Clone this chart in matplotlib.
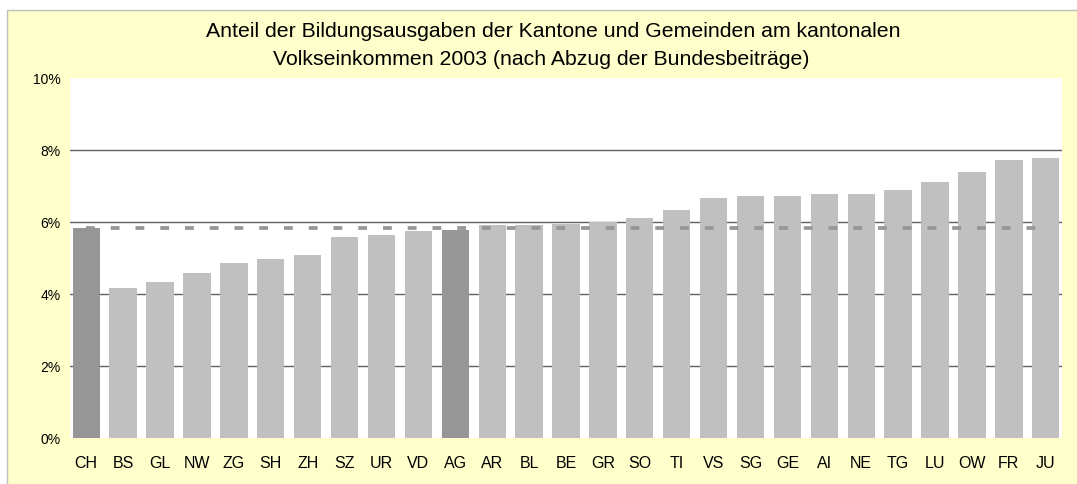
import matplotlib
matplotlib.use("Agg")
import matplotlib.pyplot as plt
from matplotlib.patches import Rectangle

plt.rcParams['font.family'] = ['Liberation Sans', 'DejaVu Sans']

cantons = ["CH", "BS", "GL", "NW", "ZG", "SH", "ZH", "SZ", "UR", "VD", "AG", "AR", "BL",
           "BE", "GR", "SO", "TI", "VS", "SG", "GE", "AI", "NE", "TG", "LU", "OW", "FR", "JU"]
values = [5.84, 4.18, 4.34, 4.57, 4.85, 4.96, 5.07, 5.57, 5.63, 5.74, 5.79, 5.91, 5.92,
          5.95, 6.01, 6.12, 6.34, 6.68, 6.73, 6.73, 6.79, 6.79, 6.90, 7.12, 7.40, 7.73, 7.79]
highlight = ["CH", "AG"]
ch_average = 5.84
yticks = [0, 2, 4, 6, 8, 10]
ytick_labels = ["0%", "2%", "4%", "6%", "8%", "10%"]
title_lines = ["Anteil der Bildungsausgaben der Kantone und Gemeinden am kantonalen",
               "Volkseinkommen 2003 (nach Abzug der Bundesbeiträge)"]

W, H = 1077, 485
fig = plt.figure(figsize=(W / 100, H / 100), dpi=100)
fig.patch.set_facecolor("white")

# yellow chart area with light grey border (left/top visible)
bg = Rectangle((7 / W, -0.05), 1.1, (H - 11) / H + 0.05, transform=fig.transFigure,
               facecolor="#FFFFCC", edgecolor="#C0C0C0", linewidth=1.0, zorder=-10)
fig.patches.append(bg)

ax = fig.add_axes([70 / W, (H - 439) / H, (1062 - 70) / W, (439 - 79) / H])
ax.set_zorder(1)
ax.set_facecolor("white")

colors = ["#969696" if c in highlight else "#C0C0C0" for c in cantons]
x = list(range(len(cantons)))
ax.bar(x, values, width=0.74, color=colors, zorder=2)

for gy in yticks[1:-1]:
    ax.axhline(gy, color="#606060", linewidth=1.0, zorder=1)

ax.plot([0, len(cantons) - 1], [ch_average, ch_average], color="#969696",
        linewidth=2.7, linestyle=(0, (2.35, 4.25)), solid_capstyle="butt",
        dash_capstyle="butt", zorder=3)

ax.set_xlim(-0.44, len(cantons) - 0.56)
ax.set_ylim(0, 10)
ax.set_yticks(yticks)
ax.set_yticklabels(ytick_labels, fontsize=10)
ax.set_xticks(x)
ax.set_xticklabels(cantons, fontsize=11.5)
ax.tick_params(axis="both", length=0)
ax.tick_params(axis="y", pad=7)
ax.tick_params(axis="x", pad=12)
for s in ax.spines.values():
    s.set_visible(False)

fig.text(553 / W, 1 - 36.7 / H, title_lines[0], ha="center", va="baseline", fontsize=15.3)
fig.text(541 / W, 1 - 65.3 / H, title_lines[1], ha="center", va="baseline", fontsize=15.3)

fig.savefig("out.png", dpi=100)
